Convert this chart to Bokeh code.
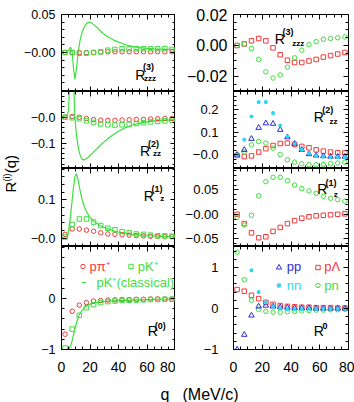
import math
import numpy as np
from bokeh.plotting import figure
from bokeh.layouts import column, row
from bokeh.models import (Range1d, FixedTicker, LinearAxis, Label, Legend, LegendItem,
                          CustomJSTickFormatter)
from bokeh.core.properties import value
from bokeh.embed import file_html
from bokeh.resources import INLINE

# ---------------- data ----------------
Q = [2.5, 7.5, 12.5, 17.5, 22.5, 27.5, 32.5, 37.5, 42.5, 47.5, 52.5, 57.5, 62.5, 67.5, 72.5, 77.5]
QC = [0, 3, 4, 5, 6.4, 7.5, 8.5, 9.4, 10.5, 11.7, 13, 14.5, 16, 18, 19.5, 21, 23, 25, 28, 32,
      36, 40, 45, 50, 55, 60, 65, 70, 75, 80]

# left column: p pi+ (points), p K+ (points), p K+ classical (line)
PKC_R3 = [0, 0, 0.001, 0.003, 0.007, 0.0, -0.022, -0.035, -0.022, 0.0, 0.016, 0.027, 0.034, 0.039, 0.040,
          0.039, 0.036, 0.033, 0.027, 0.021, 0.017, 0.0136, 0.0102, 0.0078, 0.0064, 0.0055, 0.0049, 0.0045, 0.0042, 0.004]
PKC_R2 = [0, 0, 0, 0.03, 0.25, 0.3, 0.15, 0.0, -0.07, -0.115, -0.145, -0.162, -0.164, -0.157, -0.15,
          -0.142, -0.131, -0.121, -0.104, -0.085, -0.068, -0.054, -0.04, -0.03, -0.023, -0.018, -0.014, -0.012, -0.011, -0.01]
PKC_R1 = [0, 0, 0, 0.02, 0.06, 0.1, 0.135, 0.16, 0.168, 0.15, 0.125, 0.1, 0.082, 0.066, 0.057,
          0.05, 0.043, 0.038, 0.031, 0.025, 0.02, 0.016, 0.013, 0.01, 0.0085, 0.007, 0.006, 0.005, 0.0045, 0.004]
PKC_R0 = [-1, -1, -1, -1, -0.93, -0.82, -0.7, -0.6, -0.48, -0.37, -0.29, -0.23, -0.18, -0.14, -0.12,
          -0.1, -0.085, -0.075, -0.065, -0.05, -0.045, -0.04, -0.035, -0.03, -0.025, -0.02, -0.018, -0.015, -0.013, -0.012]

PPI_R3 = [0.0, 0.0, 0.0, 0.0, 0.0, 0.0005, 0.0008, 0.001, 0.001, 0.001, 0.001, 0.001, 0.001, 0.001, 0.001, 0.001]
PK_R3 = [0.0, 0.0, -0.001, -0.001, 0.0, 0.001, 0.003, 0.004, 0.005, 0.005, 0.005, 0.005, 0.005, 0.005, 0.005, 0.004]
PPI_R2 = [0.0, 0.003, 0.0, -0.005, -0.009, -0.011, -0.012, -0.012, -0.011, -0.01, -0.009, -0.008, -0.007, -0.006, -0.005, -0.005]
PK_R2 = [0.0, -0.002, -0.006, -0.014, -0.02, -0.026, -0.029, -0.03, -0.029, -0.027, -0.024, -0.021, -0.018, -0.016, -0.014, -0.012]
PPI_R1 = [0.01, 0.024, 0.024, 0.021, 0.018, 0.014, 0.011, 0.01, 0.009, 0.008, 0.007, 0.006, 0.005, 0.005, 0.004, 0.004]
PK_R1 = [0.003, 0.036, 0.05, 0.05, 0.042, 0.033, 0.026, 0.022, 0.017, 0.014, 0.011, 0.01, 0.008, 0.006, 0.006, 0.005]
PPI_R0 = [-0.7, -0.25, -0.13, -0.08, -0.05, -0.04, -0.03, -0.025, -0.02, -0.02, -0.015, -0.015, -0.01, -0.01, -0.01, -0.01]
PK_R0 = [-0.97, -0.6, -0.33, -0.18, -0.12, -0.08, -0.06, -0.05, -0.04, -0.035, -0.03, -0.025, -0.02, -0.02, -0.015, -0.015]

# right column: pp, nn, p Lambda, pn
PL_R3 = [0.0, 0.001, 0.003, 0.0045, 0.003, -0.0015, -0.006, -0.0095, -0.011, -0.011, -0.01, -0.009, -0.0075, -0.0065, -0.0055, -0.0045]
PN_R3 = [0.0, 0.001, -0.002, -0.009, -0.017, -0.021, -0.019, -0.014, -0.008, -0.003, 0.0005, 0.0025, 0.004, 0.0045, 0.005, 0.0055]
PP_R2 = [0.0, 0.022, 0.071, 0.12, 0.14, 0.138, 0.111, 0.078, 0.049, 0.022, 0.003, -0.003, -0.006, -0.008, -0.008, -0.008]
NN_R2 = [0.0, 0.067, 0.17, 0.234, 0.234, 0.185, 0.13, 0.081, 0.049, 0.022, 0.007, -0.003, -0.008, -0.01, -0.01, -0.01]
PL_R2 = [-0.003, -0.008, -0.005, 0.012, 0.027, 0.041, 0.05, 0.052, 0.046, 0.037, 0.031, 0.022, 0.016, 0.012, 0.009, 0.008]
PN_R2 = [0.0, 0.012, 0.044, 0.059, 0.052, 0.029, 0.001, -0.022, -0.033, -0.04, -0.044, -0.044, -0.043, -0.04, -0.037, -0.033]
PL_R1 = [0.0, -0.019, -0.038, -0.048, -0.046, -0.035, -0.027, -0.019, -0.013, -0.008, -0.005, -0.003, -0.002, -0.001, 0.0, 0.001]
PN_R1 = [-0.006, -0.022, -0.002, 0.038, 0.067, 0.076, 0.076, 0.069, 0.06, 0.053, 0.048, 0.043, 0.037, 0.033, 0.03, 0.027]
PP_R0 = [-1.0, -0.64, -0.17, 0.05, 0.07, 0.05, 0.03, 0.02, 0.01, 0.01, 0.01, 0.0, 0.0, 0.0, 0.0, 0.0]
NN_R0 = [2.6, 1.8, 0.93, 0.4, 0.15, 0.05, 0.0, -0.02, -0.02, -0.02, -0.015, -0.01, -0.01, -0.01, -0.01, -0.01]
PL_R0 = [0.46, 0.42, 0.32, 0.24, 0.15, 0.1, 0.07, 0.05, 0.04, 0.03, 0.03, 0.02, 0.02, 0.02, 0.01, 0.01]
PN_R0 = [1.37, 0.7, 0.2, -0.02, -0.07, -0.09, -0.09, -0.08, -0.07, -0.06, -0.05, -0.04, -0.04, -0.03, -0.03, -0.02]

X_TICKS = [0, 20, 40, 60, 80]
X_LABELS = ["0", "20", "40", "60", "80"]

# y ranges / ticks per panel [col][row]
YR = [[(-0.0513, 0.05), (-0.197, 0.0988), (-0.0216, 0.1815), (-1.0, 1.02)],
      [(-0.0297, 0.02), (-0.061, 0.281), (-0.066, 0.094), (-1.0, 1.51)]]
YMAJ = [[[0.0, 0.05], [-0.1, 0.0], [0.0, 0.1], [-1.0, 0.0]],
        [[-0.02, 0.0, 0.02], [0.0, 0.1, 0.2], [-0.05, 0.0, 0.05], [-1.0, 0.0, 1.0]]]
YLAB = [[["\u22120.00", "0.05"], ["\u22120.1", "\u22120.0"], ["\u22120.0", "0.1"], ["\u22121", "0"]],
        [["\u22120.02", "0.00", "0.02"], ["\u22120.0", "0.1", "0.2"], ["\u22120.05", "\u22120.00", "0.05"],
         ["\u22121", "0", "1"]]]
YMIN = [[0.01, 0.02, 0.02, 0.2], [0.005, 0.02, 0.01, 0.2]]

RED = "#f23a3a"
GREEN = "#3ee03e"
BLUE = "#2c2cd6"
CYAN = "#2ed6ee"
FONT = "Liberation Sans"

YLAB_W = 20
XL = (59, 175)
XR = (233, 348)
ROWS = [(14, 91), (91, 168), (168, 246), (246, 349)]
HEIGHTS = [91, 77, 78, 132]


def hide_labels(ax):
    ax.formatter = CustomJSTickFormatter(code="return ''")
    ax.major_label_text_font_size = "0px"
    ax.major_label_standoff = 0


def style(ax, ticker):
    ax.ticker = ticker
    ax.major_tick_in = 5
    ax.major_tick_out = 0
    ax.minor_tick_in = 3
    ax.minor_tick_out = 0
    ax.axis_line_color = "black"
    ax.major_tick_line_color = "black"
    ax.minor_tick_line_color = "black"
    ax.major_label_text_color = "black"
    ax.major_label_text_font = FONT


def make_fig(ci, ri):
    y0, y1 = YR[ci][ri]
    p = figure(width=(175 - YLAB_W) if ci == 0 else 179, height=HEIGHTS[ri],
               x_range=Range1d(0, 80), y_range=Range1d(y0, y1),
               x_axis_location=None, y_axis_location=None,
               output_backend="svg", toolbar_location=None,
               min_border=0, min_border_left=(59 - YLAB_W) if ci == 0 else 58,
               min_border_right=0 if ci == 0 else 6,
               min_border_top=14 if ri == 0 else 0,
               min_border_bottom=29 if ri == 3 else 0)
    p.grid.visible = False
    p.outline_line_color = "black"
    p.background_fill_color = "white"
    p.border_fill_color = "white"

    xt = FixedTicker(ticks=X_TICKS, minor_ticks=list(range(0, 81, 5)))
    step = YMIN[ci][ri]
    mins = np.round(np.arange(math.ceil(y0 / step) * step, y1 + 1e-9, step), 4).tolist()
    yt = FixedTicker(ticks=YMAJ[ci][ri], minor_ticks=mins)

    left = LinearAxis()
    style(left, yt)
    left.major_label_overrides = {t: s for t, s in zip(YMAJ[ci][ri], YLAB[ci][ri])}
    if ci == 1 and ri == 0:
        left.major_label_text_font_size = "16px"
        left.major_label_standoff = 6
    elif ci == 1:
        left.major_label_text_font_size = "13px"
        left.major_label_standoff = 15
    else:
        left.major_label_text_font_size = "12.5px"
        left.major_label_standoff = 6
    p.add_layout(left, "left")

    right = LinearAxis(fixed_location=80)
    style(right, yt)
    hide_labels(right)
    p.add_layout(right, "right")

    top = LinearAxis(fixed_location=y1)
    style(top, xt)
    hide_labels(top)
    p.add_layout(top, "above")

    if ri == 3:
        bot = LinearAxis()
        style(bot, xt)
        bot.major_label_overrides = {t: s for t, s in zip(X_TICKS, X_LABELS)}
        bot.major_label_text_font_size = "14px"
        bot.major_label_standoff = 12
    else:
        bot = LinearAxis(fixed_location=y0)
        style(bot, xt)
        hide_labels(bot)
    p.add_layout(bot, "below")
    return p


def put(p, ci, ri, px, py, text, size, bold=False):
    x0, x1 = XL if ci == 0 else XR
    fy0, fy1 = ROWS[ri]
    ya, yb = YR[ci][ri]
    dx = (px - x0) / (x1 - x0) * 80
    dy = yb - (py - fy0) / (fy1 - fy0) * (yb - ya)
    p.add_layout(Label(x=dx, y=dy, text=text, text_font=FONT, text_font_size=f"{size}px",
                       text_font_style="bold" if bold else "normal", text_align="left",
                       text_baseline="alphabetic", text_color="black"))


def add_legend(p, ci, ri, rend, label, color, cx, cy, gw, standoff):
    x0 = XL[0] if ci == 0 else XR[0]
    fb = ROWS[ri][1]
    leg = Legend(items=[LegendItem(label=value(label), renderers=[rend])],
                 location=(cx - gw / 2 - x0, fb - (cy + 8)), orientation="vertical",
                 padding=0, margin=0, spacing=0, glyph_width=gw, glyph_height=16,
                 label_height=16, label_width=0, label_standoff=standoff,
                 label_text_font=FONT, label_text_font_size="13px", label_text_color=color,
                 background_fill_alpha=0, border_line_alpha=0)
    p.add_layout(leg)


LEFT_DATA = [(PPI_R3, PK_R3, PKC_R3), (PPI_R2, PK_R2, PKC_R2), (PPI_R1, PK_R1, PKC_R1), (PPI_R0, PK_R0, PKC_R0)]
RIGHT_DATA = [(None, None, PL_R3, PN_R3), (PP_R2, NN_R2, PL_R2, PN_R2), (None, None, PL_R1, PN_R1),
              (PP_R0, NN_R0, PL_R0, PN_R0)]

left_figs, right_figs = [], []
for ri in range(4):
    ppi, pk, pkc = LEFT_DATA[ri]
    p = make_fig(0, ri)
    r_line = p.line(QC, pkc, line_color=GREEN, line_width=1.2)
    r_pi = p.scatter(Q, ppi, marker="circle", size=4.5, fill_color=None, line_color=RED, line_width=1)
    r_k = p.scatter(Q, pk, marker="square", size=4.5, fill_color=None, line_color=GREEN, line_width=1)
    if ri == 3:
        add_legend(p, 0, 3, r_pi, "p\u03c0\u207a", RED, 80, 266.7, 11, 2)
        add_legend(p, 0, 3, r_k, "pK\u207a", GREEN, 128.3, 266.7, 11, 2)
        add_legend(p, 0, 3, r_line, "pK\u207a(classical)", GREEN, 81, 282.7, 5, 11)
    left_figs.append(p)

    pp, nn, pl, pn = RIGHT_DATA[ri]
    p = make_fig(1, ri)
    r_pl = p.scatter(Q, pl, marker="square", size=4.5, fill_color=None, line_color=RED, line_width=1)
    r_pn = p.scatter(Q, pn, marker="circle", size=4.5, fill_color=None, line_color=GREEN, line_width=1)
    if pp is not None:
        r_pp = p.scatter(Q, pp, marker="triangle", size=5.5, fill_color=None, line_color=BLUE, line_width=1)
        r_nn = p.scatter(Q, nn, marker="asterisk", size=4, line_color=CYAN, line_width=1.2)
    if ri == 3:
        add_legend(p, 1, 3, r_pp, "pp", BLUE, 278.3, 266.7, 13, 2)
        add_legend(p, 1, 3, r_pl, "p\u039b", RED, 317.7, 266.7, 11, 1)
        add_legend(p, 1, 3, r_nn, "nn", CYAN, 278.3, 285, 13, 2)
        add_legend(p, 1, 3, r_pn, "pn", GREEN, 317.7, 285, 11, 1)
    right_figs.append(p)

# panel labels: (col, row, R pos, sup text, sup pos, sub text, sub pos)
PANEL_LABELS = [
    (0, 0, (134, 74), "(3)", (142, 66), "zzz", (143, 78)),
    (0, 1, (139, 150), "(2)", (147, 143), "zz", (152, 153)),
    (0, 2, (142.7, 195), "(1)", (150.7, 188), "z", (159.5, 198)),
    (0, 3, (146.7, 330), "(0)", (154, 325), None, None),
    (1, 0, (274.3, 38.5), "(3)", (282, 31.5), "zzz", (291.7, 43)),
    (1, 1, (313.3, 116.7), "(2)", (321.7, 109), "zz", (329, 120.5)),
    (1, 2, (316.7, 188.3), "(1)", (325, 182), "z", (333.3, 193.5)),
    (1, 3, (313.3, 330), "0", (322, 325), None, None),
]
for ci, ri, rp, sup, sp, sub, sbp in PANEL_LABELS:
    p = left_figs[ri] if ci == 0 else right_figs[ri]
    put(p, ci, ri, rp[0], rp[1], "R", 14)
    put(p, ci, ri, sp[0], sp[1], sup, 9, bold=True)
    if sub:
        put(p, ci, ri, sbp[0], sbp[1], sub, 8, bold=True)

# y-axis title (rotated, reads bottom to top; each piece centred on its anchor)
ylab = figure(width=YLAB_W, height=378, x_range=Range1d(0, YLAB_W), y_range=Range1d(0, 378),
              x_axis_location=None, y_axis_location=None, output_backend="svg",
              toolbar_location=None, min_border=0)
ylab.grid.visible = False
ylab.outline_line_color = None
for txt, cx, cy, fs in [("R", 10, 378 - 186.6, 15), ("(i)", 6.3, 378 - 176.9, 9), ("(q)", 10, 378 - 163.6, 15)]:
    ylab.add_layout(Label(x=cx, y=cy, text=txt, angle=math.pi / 2, text_font=FONT,
                          text_font_size=f"{fs}px", text_align="center", text_baseline="middle",
                          text_color="black"))

# x-axis title
xlab = figure(width=354, height=24, x_range=Range1d(0, 354), y_range=Range1d(0, 24),
              x_axis_location=None, y_axis_location=None, output_backend="svg",
              toolbar_location=None, min_border=0)
xlab.grid.visible = False
xlab.outline_line_color = None
for txt, bx in [("q", 160), ("(MeV/c)", 182)]:
    xlab.add_layout(Label(x=bx, y=8, text=txt, text_font=FONT, text_font_size="16px",
                          text_align="left", text_baseline="alphabetic", text_color="black"))

layout = column(row(ylab, column(*left_figs), column(*right_figs)), xlab)
open("out.html", "w").write(file_html(layout, INLINE))
